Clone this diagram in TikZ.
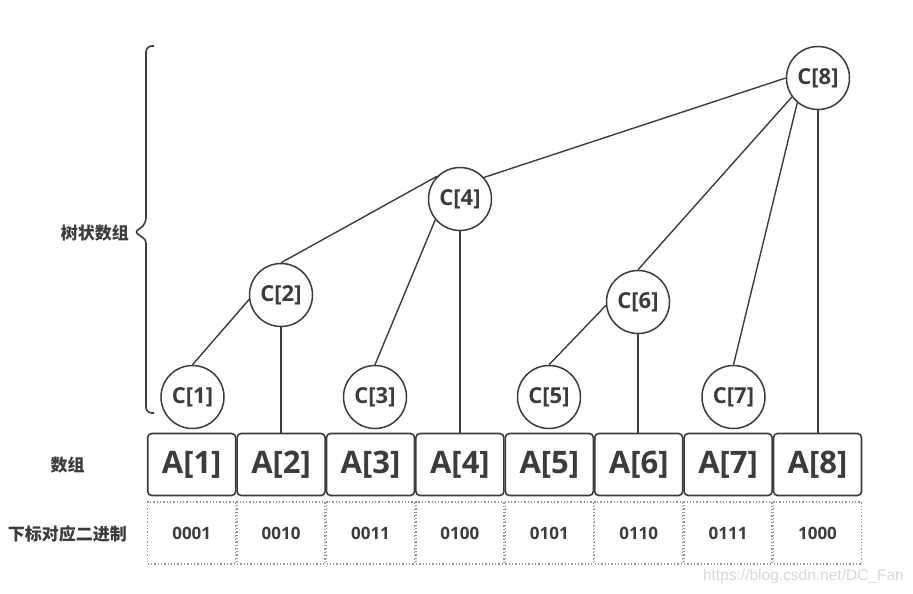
\documentclass[tikz,border=0pt]{standalone}
\usepackage{fontspec}
\setmainfont{Open Sans}
\newfontfamily\cjk{Noto Sans CJK SC}
\newfontfamily\wmfont{Liberation Sans}
\definecolor{ink}{RGB}{60,60,60}
\definecolor{dotc}{RGB}{150,150,150}
\definecolor{wm}{RGB}{215,215,215}
\tikzset{
  cnode/.style={circle, draw=ink, line width=1.5pt, fill=white, minimum size=63pt, inner sep=0pt,
    text=ink, font=\fontsize{22}{24}\selectfont\bfseries},
  abox/.style={draw=ink, line width=1.6pt, rounded corners=4pt, minimum width=88pt, minimum height=62pt,
    inner sep=0pt, text=ink, font=\fontsize{31}{34}\selectfont\bfseries},
  bbox/.style={draw=dotc, line width=1.3pt, dotted, minimum width=88pt, minimum height=62pt,
    inner sep=0pt, text=ink, font=\fontsize{17}{19}\selectfont\bfseries},
  edge/.style={draw=ink, line width=1.4pt},
  lab/.style={text=ink, font=\cjk\fontsize{17}{19}\selectfont\bfseries, inner sep=0pt},
}
\begin{document}
\begin{tikzpicture}[x=1pt, y=-1pt]
\useasboundingbox (0,0) rectangle (913,594);
% array boxes
\foreach \i/\b in {1/0001,2/0010,3/0011,4/0100,5/0101,6/0110,7/0111,8/1000} {
  \node[abox] (A\i) at ({147+89.4*(\i-0.5)},464.5) {A[\i]};
  \node[bbox] (B\i) at ({147+89.4*(\i-0.5)},533) {\b};
}
% tree nodes
\node[cnode] (C8) at (818,78) {C[8]};
\node[cnode] (C4) at (460,199) {C[4]};
\node[cnode] (C2) at (281,295) {C[2]};
\node[cnode] (C6) at (638,302) {C[6]};
\node[cnode] (C1) at (192.5,397) {C[1]};
\node[cnode] (C3) at (375,397) {C[3]};
\node[cnode] (C5) at (549,397) {C[5]};
\node[cnode] (C7) at (733.5,397) {C[7]};
% connectors
\draw[edge] (C1.north) -- (C2.188);
\draw[edge] (C2.south) -- (C2.south |- A2.north);
\draw[edge] (C2.north) -- (C4.135);
\draw[edge] (C3.north) -- (C4.220);
\draw[edge] (C4.south) -- (C4.south |- A4.north);
\draw[edge] (C4.42) -- (C8.west);
\draw[edge] (C5.north) -- (C6.186);
\draw[edge] (C6.south) -- (C6.south |- A6.north);
\draw[edge] (C6.north) -- (C8.216);
\draw[edge] (C7.north) -- (C8.230);
\draw[edge] (C8.south) -- (C8.south |- A8.north);
% brace
\coordinate (brtop) at (154,46);
\coordinate (brbot) at (154,413);
\coordinate (brtip) at (135,232);
\draw[ink, line width=1.6pt, rounded corners=6pt] (brtop) -- (146,46) -- (146,224)
  [rounded corners=3pt] -- (brtip) -- (146,240) [rounded corners=6pt] -- (146,413) -- (brbot);
% labels
\node[lab, anchor=east] (tree) at (129,233) {树状数组};
\node[lab] (arr) at (67.5,465) {数组};
\node[lab] (bin) at (67.5,534) {下标对应二进制};
% watermark
\node[text=wm, font=\wmfont\fontsize{15.5}{17}\selectfont, inner sep=0pt, anchor=east] (wmk) at (904,576) {https://blog.csdn.net/DC\_Fan};
\end{tikzpicture}
\end{document}
